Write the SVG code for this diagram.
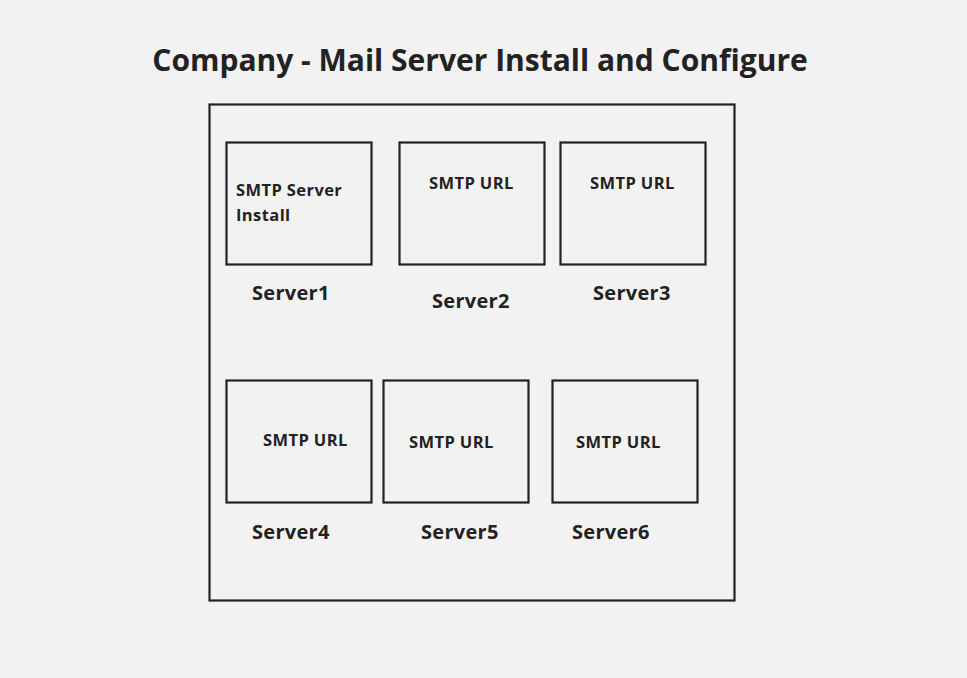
<svg xmlns="http://www.w3.org/2000/svg" width="967" height="678" viewBox="0 0 967 678">
<style>
.bg{fill:#f2f2f2}
.box{fill:#f2f2f2;stroke:#222;stroke-width:2.2}
text{font-family:"Open Sans","Noto Sans","Liberation Sans",sans-serif;fill:#222;font-weight:700}
.title{font-size:30px;text-anchor:middle}
.lbl{font-size:20px;letter-spacing:0.3px}
.in{font-size:16.5px;letter-spacing:0.4px}
</style>
<rect class="bg" x="0" y="0" width="967" height="678"/>
<text class="title" x="480" y="71">Company - Mail Server Install and Configure</text>
<g id="frame"><rect class="box" x="209.5" y="104.5" width="525" height="496"/></g>
<g id="server1">
<rect class="box" x="226.5" y="142.5" width="145" height="122"/>
<text class="in" x="236" y="196">SMTP Server</text>
<text class="in" x="236" y="221">Install</text>
<text class="lbl" x="252" y="300">Server1</text>
</g>
<g id="server2">
<rect class="box" x="399.5" y="142.5" width="145" height="122"/>
<text class="in" x="429" y="189">SMTP URL</text>
<text class="lbl" x="432" y="308">Server2</text>
</g>
<g id="server3">
<rect class="box" x="560.5" y="142.5" width="145" height="122"/>
<text class="in" x="590" y="189">SMTP URL</text>
<text class="lbl" x="593" y="300">Server3</text>
</g>
<g id="server4">
<rect class="box" x="226.5" y="380.5" width="145" height="122"/>
<text class="in" x="263" y="446">SMTP URL</text>
<text class="lbl" x="252" y="539">Server4</text>
</g>
<g id="server5">
<rect class="box" x="383.5" y="380.5" width="145" height="122"/>
<text class="in" x="409" y="448">SMTP URL</text>
<text class="lbl" x="421" y="539">Server5</text>
</g>
<g id="server6">
<rect class="box" x="552.5" y="380.5" width="145" height="122"/>
<text class="in" x="576" y="448">SMTP URL</text>
<text class="lbl" x="572" y="539">Server6</text>
</g>
<g id="connectors"></g>
</svg>
